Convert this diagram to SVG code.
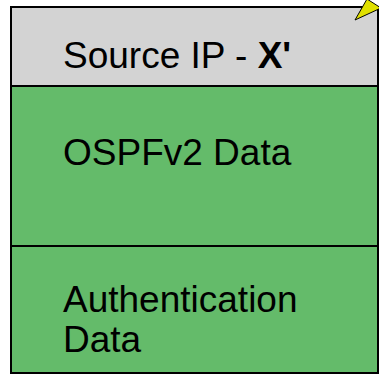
<svg xmlns="http://www.w3.org/2000/svg" width="379" height="375" viewBox="0 0 379 375">
  <style>
    .field { stroke: #000; stroke-width: 2; }
    .hdr { fill: #d3d3d3; }
    .body { fill: #64bb6a; }
    .lbl { font-family: "Liberation Sans", Arial, sans-serif; font-size: 37px; fill: #000; }
  </style>
  <g id="source-ip">
    <rect class="field hdr" x="11" y="7" width="367" height="79"/>
    <text class="lbl" x="63" y="68">Source IP - <tspan font-weight="bold">X'</tspan></text>
  </g>
  <g id="ospf-data">
    <rect class="field body" x="11" y="86" width="367" height="160"/>
    <text class="lbl" x="63" y="165">OSPFv2 Data</text>
  </g>
  <g id="auth-data">
    <rect class="field body" x="11" y="246" width="367" height="127"/>
    <text class="lbl" x="63" y="312">Authentication</text>
    <text class="lbl" x="63" y="352">Data</text>
  </g>
  <g id="callout">
    <polygon points="367,-1 355,20 381,8" fill="#e0e000" stroke="#000" stroke-width="1"/>
  </g>
</svg>
